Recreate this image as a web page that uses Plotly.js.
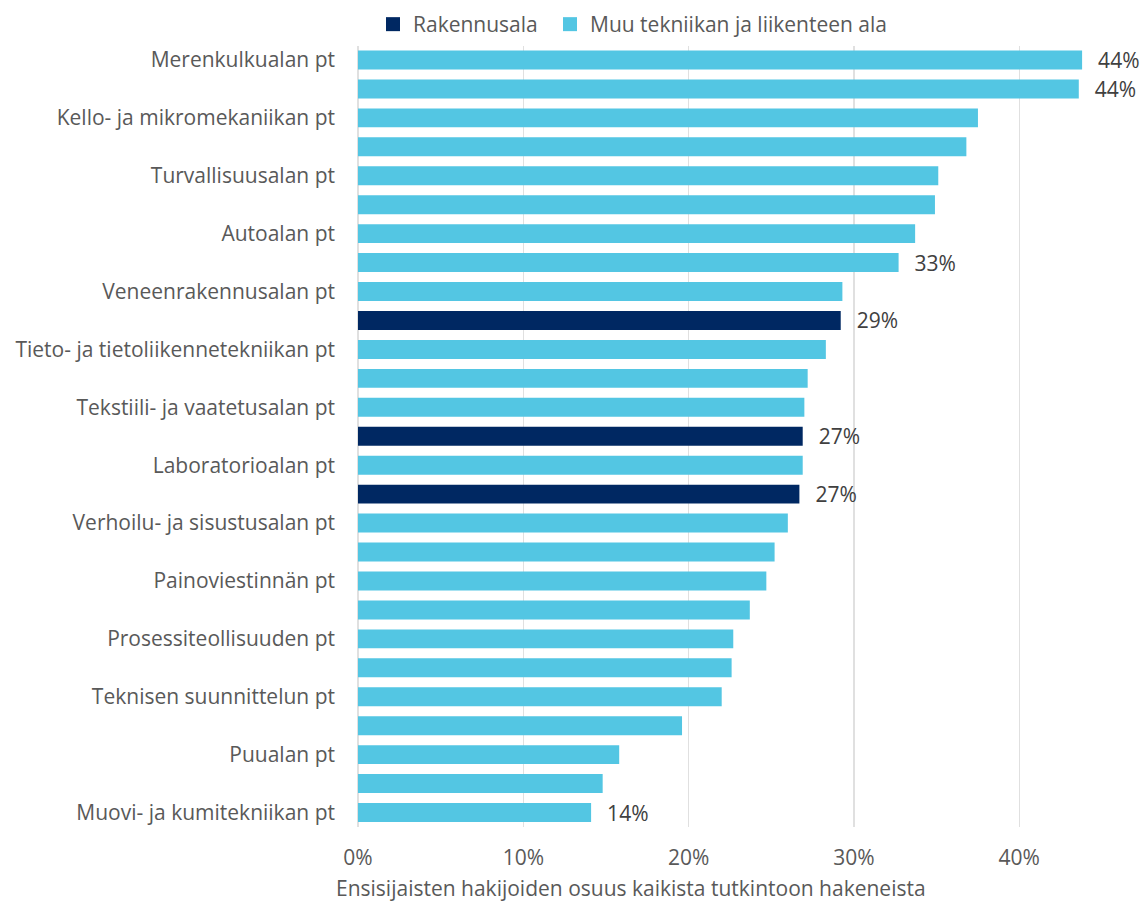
<!DOCTYPE html>
<html>
<head>
<meta charset="utf-8">
<script src="https://cdn.plot.ly/plotly-3.0.1.min.js"></script>
<style>
  html, body { margin: 0; padding: 0; background: #ffffff; }
  #chart { width: 1141px; height: 901px; }
</style>
</head>
<body>
<div id="chart"></div>
<script>
// ---- Data ----
// Row identifiers (only every second row carries a visible name in the original)
const categories = [
  "Merenkulkualan pt", "rivi 2",
  "Kello- ja mikromekaniikan pt", "rivi 4",
  "Turvallisuusalan pt", "rivi 6",
  "Autoalan pt", "rivi 8",
  "Veneenrakennusalan pt", "rivi 10",
  "Tieto- ja tietoliikennetekniikan pt", "rivi 12",
  "Tekstiili- ja vaatetusalan pt", "rivi 14",
  "Laboratorioalan pt", "rivi 16",
  "Verhoilu- ja sisustusalan pt", "rivi 18",
  "Painoviestinnän pt", "rivi 20",
  "Prosessiteollisuuden pt", "rivi 22",
  "Teknisen suunnittelun pt", "rivi 24",
  "Puualan pt", "rivi 26",
  "Muovi- ja kumitekniikan pt"
];
// Tick labels as shown (hidden rows have no label)
const tickLabels = [
  "Merenkulkualan pt", "",
  "Kello- ja mikromekaniikan pt", "",
  "Turvallisuusalan pt", "",
  "Autoalan pt", "",
  "Veneenrakennusalan pt", "",
  "Tieto- ja tietoliikennetekniikan pt", "",
  "Tekstiili- ja vaatetusalan pt", "",
  "Laboratorioalan pt", "",
  "Verhoilu- ja sisustusalan pt", "",
  "Painoviestinnän pt", "",
  "Prosessiteollisuuden pt", "",
  "Teknisen suunnittelun pt", "",
  "Puualan pt", "",
  "Muovi- ja kumitekniikan pt"
];
const values = [
  0.438, 0.436,
  0.375, 0.368,
  0.351, 0.349,
  0.337, 0.327,
  0.293, 0.292,
  0.283, 0.272,
  0.270, 0.269,
  0.269, 0.267,
  0.260, 0.252,
  0.247, 0.237,
  0.227, 0.226,
  0.220, 0.196,
  0.158, 0.148,
  0.141
];
// "R" = Rakennusala, "M" = Muu tekniikan ja liikenteen ala
const groups = [
  "M","M","M","M","M","M","M","M","M","R",
  "M","M","M","R","M","R","M","M","M","M",
  "M","M","M","M","M","M","M"
];
const showValue = [
  true, true, false, false, false, false, false, true, false, true,
  false, false, false, true, false, true, false, false, false, false,
  false, false, false, false, false, false, true
];
const seriesNames = { R: "Rakennusala", M: "Muu tekniikan ja liikenteen ala" };
const seriesColors = { R: "#002862", M: "#53c6e3" };
const xTicks = [0, 0.1, 0.2, 0.3, 0.4];

// ---- Layout constants ----
const W = 1141, H = 901;
const margin = { l: 358, r: 6, t: 44.5, b: 73.5, pad: 0 };
const plotW = W - margin.l - margin.r;
const FONT = "Open Sans, Noto Sans, sans-serif";
const FS = 21;

function pctText(v) { return "\u00a0\u00a0\u200a" + Math.round(v * 100) + "%"; }

const traces = [];
["R", "M"].forEach(function (g) {
  const ys = [], xs = [], txt = [];
  categories.forEach(function (c, i) {
    if (groups[i] === g) {
      ys.push(c);
      xs.push(values[i]);
      txt.push(showValue[i] ? pctText(values[i]) : "");
    }
  });
  traces.push({
    type: "bar",
    orientation: "h",
    y: ys,
    x: xs,
    text: txt,
    textposition: "outside",
    cliponaxis: false,
    constraintext: "none",
    textfont: { family: FONT, size: FS, color: "#404040" },
    marker: { color: seriesColors[g], line: { width: 0 } },
    showlegend: false,
    hoverinfo: "x+y",
    name: seriesNames[g]
  });
});
// Legend entries with square swatches (one legend box per entry for exact placement)
[["R", "legend"], ["M", "legend2"]].forEach(function (p) {
  traces.push({
    type: "scatter",
    mode: "markers",
    x: [null],
    y: [null],
    name: seriesNames[p[0]],
    legend: p[1],
    marker: { symbol: "square", size: 14, color: seriesColors[p[0]] },
    showlegend: true,
    hoverinfo: "skip"
  });
});

function legendAt(symbolCenterX) {
  return {
    orientation: "h",
    xref: "container",
    yref: "container",
    x: (symbolCenterX - 20) / W,
    xanchor: "left",
    y: 1 - 24.5 / H,
    yanchor: "middle",
    font: { family: FONT, size: FS, color: "#595959" },
    itemwidth: 30,
    borderwidth: 0,
    bgcolor: "rgba(0,0,0,0)"
  };
}

const layout = {
  width: W,
  height: H,
  margin: margin,
  paper_bgcolor: "#ffffff",
  plot_bgcolor: "#ffffff",
  font: { family: FONT, size: FS, color: "#595959" },
  barmode: "overlay",
  bargap: 0.345,
  showlegend: true,
  legend: legendAt(393),
  legend2: legendAt(570),
  xaxis: {
    range: [0, 0.47],
    tickvals: xTicks,
    tickformat: ".0%",
    showgrid: true,
    gridcolor: "#e0e0e0",
    gridwidth: 1.5,
    zeroline: true,
    zerolinecolor: "#e0e0e0",
    zerolinewidth: 1.5,
    showline: false,
    ticks: "",
    ticklabelstandoff: 16,
    tickfont: { family: FONT, size: FS, color: "#595959" },
    fixedrange: true
  },
  yaxis: {
    type: "category",
    categoryorder: "array",
    categoryarray: categories,
    autorange: "reversed",
    tickvals: categories,
    ticktext: tickLabels,
    showgrid: false,
    zeroline: false,
    showline: false,
    ticks: "",
    ticklabelstandoff: 22,
    tickfont: { family: FONT, size: FS, color: "#595959" },
    fixedrange: true
  },
  annotations: [{
    text: "Ensisijaisten hakijoiden osuus kaikista tutkintoon hakeneista",
    xref: "paper",
    yref: "paper",
    x: (630.5 - margin.l) / plotW,
    xanchor: "center",
    y: -(888.5 - (H - margin.b)) / (H - margin.t - margin.b),
    yanchor: "middle",
    showarrow: false,
    font: { family: FONT, size: FS, color: "#595959" }
  }]
};

Plotly.newPlot("chart", traces, layout, { displayModeBar: false, staticPlot: true });
</script>
</body>
</html>
